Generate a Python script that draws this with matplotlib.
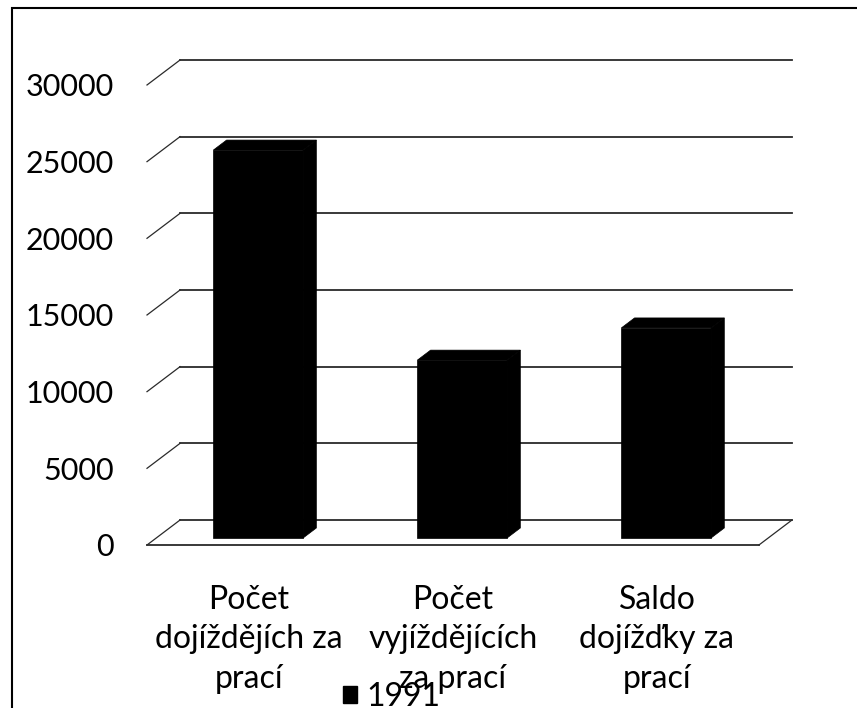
import matplotlib
matplotlib.use('Agg')
import matplotlib.pyplot as plt
from matplotlib.patches import Patch, Rectangle
import numpy as np

# Data (commuting for work, year 1991)
categories = ['Počet\ndojíždějích za\nprací', 'Počet\nvyjíždějících\nza prací', 'Saldo\ndojížďky za\nprací']
values_1991 = [25300, 11600, 13700]
y_ticks = [0, 5000, 10000, 15000, 20000, 25000, 30000]
series_name = '1991'

# Fake 3D depth of the plot box (x in category units, y in value units)
DX = 0.162
DY = 1630
# depth of the bars front and back face (fraction of the box depth)
D0 = 0.28
D1 = 0.68
BAR_W = 0.44

plt.rcParams['font.family'] = ['Lato', 'DejaVu Sans']

fig = plt.figure(figsize=(8.57, 7.08), dpi=100)
ax = fig.add_axes([147 / 857, (708 - 545) / 708, 645 / 857, 485 / 708])
ax.set_xlim(-0.5, 2.5 + DX)
ax.set_ylim(0, y_ticks[-1] + DY)

x0 = -0.5
x1 = len(categories) - 0.5
grid_col = '#2a2a2a'

# Back wall gridlines and the diagonals on the left side
for v in y_ticks:
    ax.plot([x0 + DX, x1 + DX], [v + DY, v + DY], color=grid_col, lw=1.3, zorder=1, clip_on=False)
    ax.plot([x0, x0 + DX], [v, v + DY], color=grid_col, lw=0.9, zorder=1, clip_on=False)

# Floor: front edge and right diagonal
ax.plot([x0, x1], [0, 0], color=grid_col, lw=1.3, zorder=1, clip_on=False)
ax.plot([x1, x1 + DX], [0, DY], color=grid_col, lw=0.9, zorder=1, clip_on=False)

# Bars: front face, top face and side face
xs = np.arange(len(categories))
front_left = xs - BAR_W / 2 + D0 * DX
ax.bar(front_left, values_1991, width=BAR_W, bottom=D0 * DY, align='edge',
       color='black', edgecolor='black', linewidth=0.5, zorder=3)
sx = (D1 - D0) * DX
sy = (D1 - D0) * DY
for xl, h in zip(front_left, values_1991):
    xr = xl + BAR_W
    top = h + D0 * DY
    ax.fill([xl, xr, xr + sx, xl + sx], [top, top, top + sy, top + sy],
            color='black', lw=0.5, zorder=3)
    ax.fill([xr, xr + sx, xr + sx, xr], [D0 * DY, D0 * DY + sy, top + sy, top],
            color='black', lw=0.5, zorder=3)

# Axis labels
ax.set_yticks(y_ticks)
ax.set_yticklabels([str(v) for v in y_ticks], fontsize=22)
ax.set_xticks(xs)
ax.set_xticklabels(categories, fontsize=23, linespacing=1.38)
ax.tick_params(axis='y', length=0, pad=24)
ax.tick_params(axis='x', length=0, pad=29)
for s in ax.spines.values():
    s.set_visible(False)

# Legend under the chart
handle = Patch(facecolor='black', edgecolor='black')
fig.legend([handle], [series_name], loc='lower left', bbox_to_anchor=(314 / 857, -33 / 708),
           frameon=False, fontsize=23, handlelength=0.45, handleheight=0.45, handletextpad=0.3)

# Border of the chart area (right and bottom are cut off)
fig.patches.append(Rectangle((12 / 857, -0.05), 1.1, 1 - 8 / 708 + 0.05, transform=fig.transFigure,
                             fill=False, edgecolor='black', lw=1.5))

fig.savefig('out.png', dpi=100)
